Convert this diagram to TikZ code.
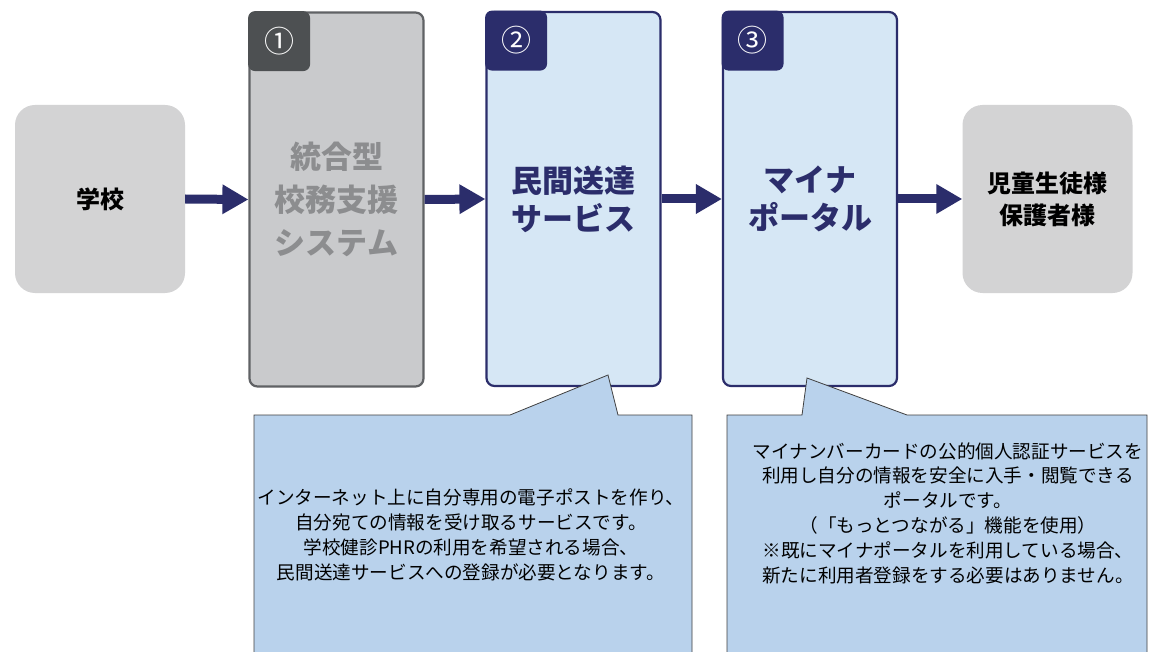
\documentclass[tikz,border=0pt]{standalone}
\usepackage{fontspec}
\setmainfont{Noto Sans CJK JP}
\usetikzlibrary{arrows.meta}

\definecolor{navy}{HTML}{2B2D6B}
\definecolor{boxblue}{HTML}{D6E7F5}
\definecolor{noteblue}{HTML}{B9D2EC}
\definecolor{endgray}{HTML}{D3D3D4}
\definecolor{sysgray}{HTML}{C9CACC}
\definecolor{sysedge}{HTML}{606265}
\definecolor{systab}{HTML}{4D5052}
\definecolor{systext}{HTML}{8C8D8F}

\def\locschool{(100,199)}
\def\locsys{(336.5,199.5)}
\def\locpost{(573.5,199)}
\def\locmyna{(810,199)}
\def\loctarget{(1047.5,199)}

\tikzset{
	endbox/.style={fill=endgray,rounded corners=20pt,minimum width=170pt,minimum height=188pt,
		align=center,font=\fontsize{24}{32}\selectfont\bfseries},
	stepbox/.style={rounded corners=8pt,line width=2.2pt,minimum width=174pt,minimum height=374pt,
		align=center,font=\fontsize{31}{38}\selectfont\bfseries},
	tabbox/.style={rounded corners=7pt,minimum width=62pt,minimum height=60pt,text=white,
		font=\fontsize{30}{30}\selectfont,anchor=north west},
	flow/.style={navy,line width=9pt,-{Triangle[length=26pt,width=28pt]}},
	notebox/.style={fill=noteblue,draw=black!75,line width=0.8pt},
	notetext/.style={align=center,font=\fontsize{18.6}{24.8}\selectfont}
}

\begin{document}
\begin{tikzpicture}[x=1pt,y=-1pt]
			\useasboundingbox (0,0) rectangle (1150,652);
			\fill[white] (0,0) rectangle (1150,652);

			% start and end
			\node[endbox] (school) at \locschool {学校};
			\node[endbox] (target) at \loctarget {児童生徒様\\保護者様};

			% steps
			\node[stepbox,fill=sysgray,draw=sysedge,text=systext,font=\fontsize{31}{43}\selectfont\bfseries] (sys) at \locsys {統合型\\校務支援\\システム};
			\node[stepbox,fill=boxblue,draw=navy,text=navy] (post) at \locpost {民間送達\\サービス};
			\node[stepbox,fill=boxblue,draw=navy,text=navy] (myna) at \locmyna {マイナ\\ポータル};

			\node[tabbox,fill=systab] (tab1) at ([shift={(-0.5,-0.5)}]sys.north west) {①};
			\node[tabbox,fill=navy] (tab2) at ([shift={(-0.5,-0.5)}]post.north west) {②};
			\node[tabbox,fill=navy] (tab3) at ([shift={(-0.5,-0.5)}]myna.north west) {③};

			% arrows
			\draw[flow] (school.east) -- (sys.west);
			\draw[flow] (sys.east) -- (post.west);
			\draw[flow] (post.east) -- (myna.west);
			\draw[flow] (myna.east) -- (target.west);

			% note for the post service
			\coordinate (tip1) at (608,375);
			\draw[notebox] (254,653) -- (254,415) -- (510,415) -- (tip1) -- (618,415) -- (692,415) -- (692,653);
			\node[notetext] (note1) at (471,535) {
				インターネット上に自分専用の電子ポストを作り、\\
				自分宛ての情報を受け取るサービスです。\\
				学校健診PHRの利用を希望される場合、\\
				民間送達サービスへの登録が必要となります。
			};

			% note for the portal
			\coordinate (tip2) at (807,378);
			\draw[notebox] (727,653) -- (727,415) -- (802,415) -- (tip2) -- (907,415) -- (1147,415) -- (1147,653);
			\node[notetext] (note2) at (948,513) {
				マイナンバーカードの公的個人認証サービスを\\
				利用し自分の情報を安全に入手・閲覧できる\\
				ポータルです。\\
				（「もっとつながる」機能を使用）\\
				※既にマイナポータルを利用している場合、\\
				新たに利用者登録をする必要はありません。
			};
		\end{tikzpicture}
\end{document}
